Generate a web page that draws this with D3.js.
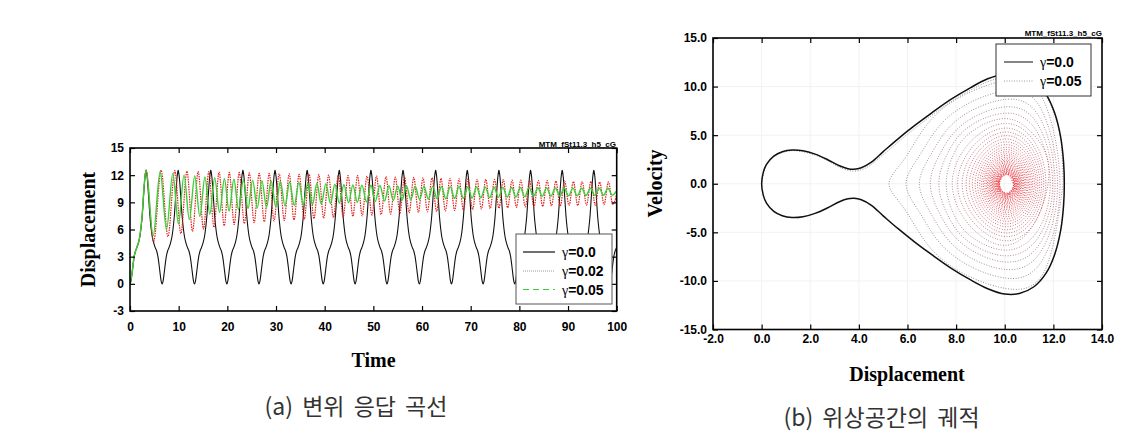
<!DOCTYPE html>
<html>
<head>
<meta charset="utf-8">
<script src="https://cdn.jsdelivr.net/npm/d3@7"></script>
<style>
  body { margin: 0; background: #fff; }
  svg text { font-family: "Liberation Sans", Arial, sans-serif; }
</style>
</head>
<body>
<svg id="fig" width="1145" height="443"></svg>
<script>
// ---------- (a) displacement response ----------
const timeTicks = [0, 10, 20, 30, 40, 50, 60, 70, 80, 90, 100];
const dispTicks = [-3, 0, 3, 6, 9, 12, 15];

const blackPeaks = [3.3, 9.9, 16.6, 23.2, 29.8, 36.4, 43.0, 49.5, 56.1, 62.8, 69.3, 75.8, 82.3, 88.8, 95.3, 101.85];
const blackTroughs = [0, 6.6, 13.25, 19.9, 26.5, 33.1, 39.7, 46.25, 52.8, 59.45, 66.05, 72.55, 79.05, 85.55, 92.05, 98.55];
const blackRiseF = [0, 0.061, 0.122, 0.183, 0.26, 0.336, 0.428, 0.52, 0.612, 0.688, 0.765, 0.826, 0.887, 0.933, 0.979, 1];
const blackRiseY = [0, 0.3, 1.1, 2.0, 3.0, 3.6, 4.0, 4.5, 5.2, 6.2, 7.6, 9.2, 10.8, 11.8, 12.4, 12.55];

// gamma = 0.02 : turning points [t, x]
const red02 = [
  [0,0],[0.4,1.1],[0.85,3.0],[1.4,4.0],[2.0,5.2],[2.5,7.6],[2.9,10.8],
  [3.3,12.55],[4.85,4.65],[6.4,12.55],[7.8,5.2],[9.2,12.5],[10.45,5.55],[11.7,12.45],[12.85,5.8],
  [14.0,12.4],[15.1,6.05],[16.2,12.4],[17.25,6.25],[18.3,12.35],[19.35,6.4],[20.4,12.3],[21.4,6.55],
  [22.45,12.3],[23.5,6.65],[24.5,12.25],[25.5,6.75],[26.55,12.2],[27.6,6.85],[28.6,12.2],[29.6,6.95],
  [30.65,12.15],[31.7,7.0],[32.7,12.15],[33.7,7.05],[34.75,12.1],[35.8,7.1],[36.8,12.1],[37.8,7.2],
  [38.8,12.05],[39.8,7.25],[40.8,12.0],[41.8,7.3],[42.8,12.0],[43.8,7.4],[44.8,11.95],[45.8,7.45],
  [46.75,11.95],[47.7,7.5],[48.7,11.9],[49.7,7.6],[50.65,11.9],[51.6,7.65],[52.6,11.85],[53.55,7.7],
  [54.5,11.8],[55.45,7.8],[56.4,11.8],[57.35,7.85],[58.3,11.75],[59.25,7.9],[60.2,11.7],[61.1,7.95],
  [62.05,11.7],[63.0,8.0],[63.9,11.65],[64.8,8.05],[65.75,11.65],[66.7,8.1],[67.6,11.6],[68.5,8.15],
  [69.45,11.6],[70.4,8.2],[71.3,11.55],[72.2,8.25],[73.1,11.55],[74.0,8.3],[74.9,11.5],[75.8,8.35],
  [76.7,11.5],[77.6,8.4],[78.5,11.45],[79.4,8.45],[80.3,11.45],[81.2,8.5],[82.1,11.4],[83.0,8.5],
  [83.9,11.4],[84.8,8.55],[85.7,11.4],[86.6,8.6],[87.5,11.35],[88.4,8.6],[89.3,11.35],[90.2,8.65],
  [91.1,11.3],[92.0,8.65],[92.9,11.3],[93.8,8.7],[94.7,11.3],[95.6,8.7],[96.5,11.25],[97.4,8.75],
  [98.3,11.25],[99.2,8.75],[100,9.9]
];

// gamma = 0.05 : turning points [t, x]
const green05 = [
  [0,0],[0.4,1.1],[0.85,3.0],[1.4,4.0],[2.0,5.2],[2.5,7.6],[2.9,10.8],
  [3.3,12.55],[4.75,5.3],[6.2,12.4],[7.5,6.0],[8.8,12.2],[9.95,6.6],[11.1,12.0],[12.2,7.1],
  [13.3,11.9],[14.35,7.45],[15.4,11.8],[16.4,7.7],[17.4,11.7],[18.4,7.9],[19.4,11.6],[20.35,8.05],
  [21.35,11.55],[22.3,8.2],[23.3,11.5],[24.25,8.3],[25.2,11.45],[26.15,8.4],[27.1,11.4],[28.05,8.45],
  [29.0,11.35],[29.95,8.5],[30.9,11.3],[31.85,8.6],[32.8,11.25],[33.75,8.65],[34.7,11.2],[35.6,8.7],
  [36.55,11.15],[37.5,8.75],[38.4,11.1],[39.3,8.8],[40.25,11.05],[41.2,8.85],[42.1,11.0],[43.0,8.9],
  [43.95,10.95],[44.9,8.95],[45.8,10.92],[46.7,9.0],[47.65,10.9],[48.6,9.05],[49.5,10.88],[50.4,9.1],
  [51.35,10.86],[52.3,9.15],[53.2,10.84],[54.1,9.2],[55.0,10.82],[55.9,9.25],[56.8,10.8],[57.7,9.28],
  [58.6,10.79],[59.5,9.32],[60.4,10.77],[61.3,9.35],[62.2,10.76],[63.1,9.38],[64.0,10.75],[64.9,9.4],
  [65.8,10.74],[66.7,9.43],[67.6,10.72],[68.5,9.45],[69.4,10.7],[70.3,9.48],[71.2,10.69],[72.1,9.5],
  [73.0,10.68],[73.9,9.52],[74.8,10.66],[75.7,9.55],[76.6,10.65],[77.5,9.57],[78.4,10.64],[79.3,9.6],
  [80.2,10.63],[81.1,9.62],[82.0,10.62],[82.9,9.64],[83.8,10.61],[84.7,9.66],[85.6,10.6],[86.5,9.68],
  [87.4,10.59],[88.3,9.7],[89.2,10.58],[90.1,9.72],[91.0,10.57],[91.9,9.73],[92.8,10.56],[93.7,9.75],
  [94.6,10.56],[95.5,9.77],[96.4,10.55],[97.3,9.78],[98.2,10.55],[99.1,9.8],[100,10.3]
];

// ---------- (b) phase plane ----------
const phaseXTicks = [-2, 0, 2, 4, 6, 8, 10, 12, 14];
const phaseVTicks = [-15, -10, -5, 0, 5, 10, 15];

// gamma = 0.0 closed orbit
const orbitX = [0,0.07,0.2,0.5,0.85,1.25,1.7,2.2,2.7,3.2,3.55,3.8,4.1,4.5,5.0,5.6,6.3,7.0,7.8,8.6,9.3,10.0,10.6,11.2,11.7,12.05,12.3,12.42,12.45];
const orbitUpperV = [0,1.2,2.0,2.85,3.3,3.48,3.4,3.05,2.5,1.85,1.55,1.5,1.65,2.2,3.3,4.6,6.0,7.3,8.7,9.9,10.8,11.3,11.3,10.6,9.2,7.3,4.8,2.2,0];
const orbitLowerV = [0,-1.2,-2.0,-2.85,-3.3,-3.48,-3.4,-3.05,-2.5,-1.85,-1.55,-1.5,-1.65,-2.2,-3.3,-4.6,-6.0,-7.3,-8.7,-9.9,-10.8,-11.35,-11.3,-10.6,-9.2,-7.3,-4.8,-2.2,0];

// gamma = 0.05 : first pass along the upper branch
const startX = [0,0.2,0.5,1.25,2.2,2.7,3.2,3.8,4.3,5.0,6.3,7.8,9.3,10.0,10.6,11.2,11.7,12.05,12.3,12.4];
const startV = [0,1.95,2.8,3.4,2.95,2.4,1.7,1.3,1.65,3.0,5.7,8.45,10.5,10.95,10.95,10.35,8.95,7.1,4.6,0];
// then one loop per cycle round the well: turning points and speed peaks
const vPeakX = 10.07;
const ringLeft = [5.24,5.94,6.49,6.94,7.29,7.59,7.84,8.06,8.25,8.41,8.55,8.67,8.78,8.88,8.97,9.05,9.12,9.18,9.24,9.29,9.34,9.38,9.42,9.46,9.49,9.52,9.55,9.58,9.605,9.63,9.65,9.67,9.69,9.71,9.725,9.74,9.755,9.77,9.78,9.79];
const ringRight = [12.27,12.17,12.07,11.97,11.87,11.78,11.69,11.60,11.52,11.44,11.36,11.29,11.22,11.15,11.09,11.03,10.97,10.92,10.87,10.82,10.78,10.74,10.70,10.67,10.64,10.61,10.58,10.555,10.53,10.51,10.49,10.47,10.45,10.43,10.415,10.40,10.385,10.37,10.36,10.35];
const ringDown = [-10.79,-9.72,-8.83,-8.06,-7.42,-6.83,-6.33,-5.87,-5.44,-5.07,-4.74,-4.42,-4.14,-3.87,-3.62,-3.39,-3.18,-2.99,-2.81,-2.65,-2.49,-2.36,-2.22,-2.09,-1.99,-1.89,-1.79,-1.70,-1.61,-1.53,-1.46,-1.39,-1.33,-1.26,-1.20,-1.15,-1.10,-1.05,-1.00,-0.97];
const ringUp = [10.64,9.58,8.69,7.92,7.27,6.70,6.20,5.73,5.32,4.95,4.61,4.31,4.03,3.76,3.52,3.30,3.09,2.91,2.73,2.57,2.42,2.29,2.16,2.04,1.94,1.84,1.74,1.65,1.57,1.49,1.43,1.36,1.29,1.23,1.17,1.12,1.07,1.02,0.99,0.95];
// outer loops are pear shaped: extra points on their flanks
const shoulderLR = [[11.70,-8.63],[11.61,-7.58],[11.54,-6.75],[11.47,-6.05],[11.40,-5.45],[11.33,-4.92]];
const shoulderLLmid = [[7.41,-7.77],[7.80,-7.24],[8.10,-6.80],[8.35,-6.37],[8.54,-6.01],[8.71,-5.60]];
const shoulderLLtip = [[5.96,-2.91],[6.56,-3.21],[7.03,-3.36],[7.41,-3.47],[7.71,-3.49],[7.96,-3.42]];
const shoulderULtip = [[5.96,2.87],[6.56,3.16],[7.03,3.30],[7.41,3.41],[7.71,3.42],[7.96,3.35]];
const shoulderULmid = [[7.41,7.66],[7.80,7.14],[8.10,6.69],[8.35,6.26],[8.54,5.89],[8.71,5.49]];
const shoulderUR = [[11.61,8.51],[11.54,7.47],[11.47,6.65],[11.40,5.94],[11.33,5.34],[11.27,4.82]];

const svg = d3.select('#fig');
const defs = svg.append('defs');

function frame(g, x, y, xt, yt, fx, fy, padX, padY) {
  const [x0, x1] = x.range(), [y0, y1] = y.range();
  const style = sel => sel.attr('font-size', 12).attr('font-weight', 'bold')
      .call(s => s.select('.domain').remove())
      .call(s => s.selectAll('line').attr('stroke', '#000').attr('stroke-width', 1.2))
      .call(s => s.selectAll('text').attr('fill', '#000'));
  g.append('g').attr('transform', `translate(0,${y0})`)
    .call(d3.axisBottom(x).tickValues(xt).tickFormat(fx).tickSizeInner(-5).tickSizeOuter(0).tickPadding(padX)).call(style);
  g.append('g').attr('transform', `translate(0,${y1})`)
    .call(d3.axisTop(x).tickValues(xt).tickFormat('').tickSizeInner(-5).tickSizeOuter(0)).call(style);
  g.append('g').attr('transform', `translate(${x0},0)`)
    .call(d3.axisLeft(y).tickValues(yt).tickFormat(fy).tickSizeInner(-5).tickSizeOuter(0).tickPadding(padY)).call(style);
  g.append('g').attr('transform', `translate(${x1},0)`)
    .call(d3.axisRight(y).tickValues(yt).tickFormat('').tickSizeInner(-5).tickSizeOuter(0)).call(style);
  g.append('rect').attr('x', x0).attr('y', y1).attr('width', x1 - x0).attr('height', y0 - y1)
    .attr('fill', 'none').attr('stroke', '#000').attr('stroke-width', 1.6);
}

function clip(id, x, y) {
  defs.append('clipPath').attr('id', id).append('rect')
    .attr('x', x.range()[0]).attr('y', y.range()[1])
    .attr('width', x.range()[1] - x.range()[0]).attr('height', y.range()[0] - y.range()[1]);
}

function legend(g, x, y, w, h, stroke, rows) {
  g.append('rect').attr('x', x).attr('y', y).attr('width', w).attr('height', h)
    .attr('fill', '#fff').attr('stroke', stroke).attr('stroke-width', 1);
  rows.forEach(r => {
    g.append('line').attr('x1', r.x1).attr('x2', r.x2).attr('y1', r.y).attr('y2', r.y)
      .attr('stroke', r.color).attr('stroke-width', r.width).attr('stroke-dasharray', r.dash);
    const t = g.append('text').attr('x', r.x2 + 7).attr('y', r.y + 5).attr('font-size', 14).attr('font-weight', 'bold');
    t.append('tspan').style('font-family', '"Liberation Serif", serif').style('font-weight', 'normal').text('γ');
    t.append('tspan').text('=' + r.label);
  });
}

const intFmt = d => String(d).replace('\u2212', '-');
const oneDec = d => d.toFixed(1);

// ---------- panel (a) ----------
const xT = d3.scaleLinear().domain([0, 100]).range([130, 616.7]);
const yD = d3.scaleLinear().domain([-3, 15]).range([311, 148]);
const gA = svg.append('g');
clip('clipA', xT, yD);

const black00 = [];
blackTroughs.forEach((T, i) => {
  const P = blackPeaks[i], N = blackTroughs[i + 1];
  blackRiseF.forEach((f, j) => black00.push([T + f * (P - T), blackRiseY[j]]));
  if (N !== undefined) {
    for (let j = blackRiseF.length - 2; j > 0; j--) black00.push([P + (1 - blackRiseF[j]) * (N - P), blackRiseY[j]]);
  }
});

const lineA = d3.line().x(d => xT(d[0])).y(d => yD(d[1])).curve(d3.curveMonotoneX);
const plotA = gA.append('g').attr('clip-path', 'url(#clipA)');
plotA.append('path').datum(black00).attr('d', lineA)
  .attr('fill', 'none').attr('stroke', '#111').attr('stroke-width', 1.1);
plotA.append('path').datum(red02).attr('d', lineA)
  .attr('fill', 'none').attr('stroke', '#e0201c').attr('stroke-width', 1.2).attr('stroke-dasharray', '1.5 1');
plotA.append('path').datum(green05).attr('d', lineA)
  .attr('fill', 'none').attr('stroke', '#38d038').attr('stroke-width', 1.4);

frame(gA, xT, yD, timeTicks, dispTicks, intFmt, intFmt, 11, 6);

gA.append('text').attr('x', 616).attr('y', 146.5).attr('text-anchor', 'end')
  .attr('font-size', 8).attr('font-weight', 'bold').text('MTM_fSt11.3_h5_cG');
gA.append('text').attr('x', 373.5).attr('y', 367).attr('text-anchor', 'middle')
  .style('font-family', '"Liberation Serif", serif').attr('font-size', 20).attr('font-weight', 'bold').text('Time');
gA.append('text').attr('transform', 'translate(94.5,229.5) rotate(-90)').attr('text-anchor', 'middle')
  .style('font-family', '"Liberation Serif", serif').attr('font-size', 20).attr('font-weight', 'bold').text('Displacement');

legend(gA, 516, 234, 96, 70, '#555', [
  {label: '0.0', y: 252, x1: 523, x2: 555, color: '#111', width: 1.2, dash: null},
  {label: '0.02', y: 271, x1: 523, x2: 555, color: '#9a9a9a', width: 1, dash: '1 1'},
  {label: '0.05', y: 289.5, x1: 523, x2: 555, color: '#38d038', width: 1.2, dash: '6 4'}
]);

// ---------- panel (b) ----------
const xP = d3.scaleLinear().domain([-2, 14]).range([713, 1102]);
const yV = d3.scaleLinear().domain([-15, 15]).range([329.5, 38]);
const gB = svg.append('g');
clip('clipB', xP, yV);

// faint grid
gB.append('g').selectAll('line').data(phaseXTicks.slice(1, -1)).join('line')
  .attr('x1', d => xP(d)).attr('x2', d => xP(d)).attr('y1', yV(15)).attr('y2', yV(-15))
  .attr('stroke', '#f2f2f2').attr('stroke-width', 1);
gB.append('g').selectAll('line').data(phaseVTicks.slice(1, -1)).join('line')
  .attr('y1', d => yV(d)).attr('y2', d => yV(d)).attr('x1', xP(-2)).attr('x2', xP(14))
  .attr('stroke', '#f2f2f2').attr('stroke-width', 1);

const grad = defs.append('radialGradient').attr('id', 'spiralInk').attr('gradientUnits', 'userSpaceOnUse')
  .attr('cx', xP(vPeakX)).attr('cy', yV(0)).attr('r', 125);
[[0, '#ee2a30'], [0.2, '#dc3c48'], [0.45, '#a8707c'], [0.7, '#857b84'], [1, '#76727a']].forEach(s =>
  grad.append('stop').attr('offset', s[0]).attr('stop-color', s[1]));

const rings = [[startX[startX.length - 1], 0]];
ringLeft.forEach((xl, k) => {
  if (k < shoulderLR.length) rings.push(shoulderLR[k]);
  rings.push([vPeakX, ringDown[k]]);
  if (k < shoulderLLmid.length) rings.push(shoulderLLmid[k], shoulderLLtip[k]);
  rings.push([xl, 0]);
  if (k < shoulderULtip.length) rings.push(shoulderULtip[k], shoulderULmid[k]);
  rings.push([vPeakX, ringUp[k]]);
  if (k < shoulderUR.length) rings.push(shoulderUR[k]);
  rings.push([ringRight[k], 0]);
});

const plotB = gB.append('g').attr('clip-path', 'url(#clipB)');
const dotted = sel => sel.attr('fill', 'none').attr('stroke', 'url(#spiralInk)')
  .attr('stroke-width', 0.9).attr('stroke-dasharray', '0.9 1.7');
plotB.append('path').datum(startX.map((x, i) => [x, startV[i]]))
  .attr('d', d3.line().x(d => xP(d[0])).y(d => yV(d[1])).curve(d3.curveCatmullRom.alpha(0.5))).call(dotted);
plotB.append('path').datum(rings)
  .attr('d', d3.line().x(d => xP(d[0])).y(d => yV(d[1])).curve(d3.curveNatural)).call(dotted);

const orbit = orbitX.map((x, i) => [x, orbitUpperV[i]])
  .concat(orbitX.map((x, i) => [x, orbitLowerV[i]]).reverse().slice(1, -1));
plotB.append('path').datum(orbit)
  .attr('d', d3.line().x(d => xP(d[0])).y(d => yV(d[1])).curve(d3.curveCatmullRomClosed.alpha(0.5)))
  .attr('fill', 'none').attr('stroke', '#111').attr('stroke-width', 1.5);

frame(gB, xP, yV, phaseXTicks, phaseVTicks, oneDec, oneDec, 5, 6);

gB.append('text').attr('x', 1102).attr('y', 36).attr('text-anchor', 'end')
  .attr('font-size', 8).attr('font-weight', 'bold').text('MTM_fSt11.3_h5_cG');
gB.append('text').attr('x', 907).attr('y', 380.5).attr('text-anchor', 'middle')
  .style('font-family', '"Liberation Serif", serif').attr('font-size', 20).attr('font-weight', 'bold').text('Displacement');
gB.append('text').attr('transform', 'translate(662,183.5) rotate(-90)').attr('text-anchor', 'middle')
  .style('font-family', '"Liberation Serif", serif').attr('font-size', 20).attr('font-weight', 'bold').text('Velocity');

legend(gB, 996, 44, 95, 52, '#333', [
  {label: '0.0', y: 62, x1: 1004, x2: 1033, color: '#333', width: 1.2, dash: null},
  {label: '0.05', y: 81, x1: 1004, x2: 1033, color: '#999', width: 1, dash: '1 1.5'}
]);

// ---------- captions ----------
[['(a) 변위 응답 곡선', 356, 415], ['(b) 위상공간의 궤적', 881.5, 426]].forEach(c =>
  svg.append('text').attr('x', c[1]).attr('y', c[2]).attr('text-anchor', 'middle')
    .style('font-family', '"Noto Sans CJK KR", sans-serif').attr('font-size', 23)
    .attr('word-spacing', 4).attr('fill', '#333').text(c[0]));
</script>
</body>
</html>
